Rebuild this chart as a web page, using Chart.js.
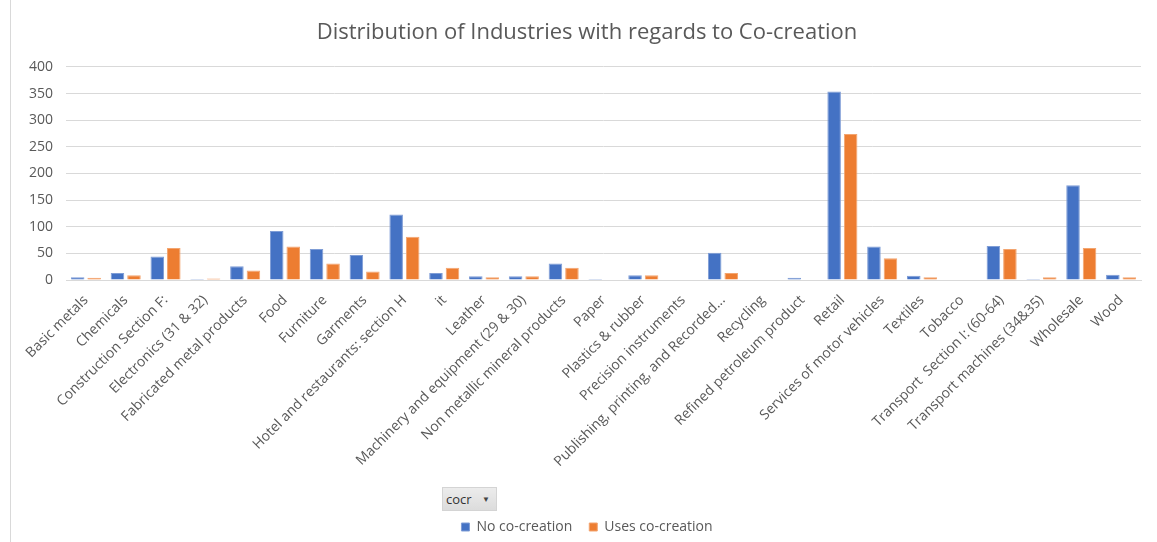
<!DOCTYPE html>
<html>
<head>
<meta charset="utf-8">
<script src="https://cdn.jsdelivr.net/npm/chart.js@4/dist/chart.umd.min.js"></script>
<style>
  html, body { margin: 0; padding: 0; background: #fff; overflow: hidden; }
  #wrap { position: relative; width: 1157px; height: 542px; }
  #frame { position: absolute; left: 10px; top: 0; width: 1px; height: 542px; background: #d9d9d9; }
  #cocr {
    position: absolute; left: 442px; top: 487px; width: 55px; height: 24px;
    background: linear-gradient(#ececec, #dcdcdc); border: 1px solid #d4d4d4; box-sizing: border-box;
    font: 13px "Open Sans", sans-serif; color: #333; line-height: 22px; padding-left: 3px;
  }
  #cocr span { position: absolute; left: 39px; top: 0; font-size: 8px; color: #444; }
</style>
</head>
<body>
<div id="wrap">
  <canvas id="chart" width="1157" height="542"></canvas>
  <div id="frame"></div>
  <div id="cocr">cocr<span>▼</span></div>
</div>
<script>
// categories (industry) as shown on the x axis
var industries = [
  'Basic metals', 'Chemicals', 'Construction Section F:', 'Electronics (31 & 32)',
  'Fabricated metal products', 'Food', 'Furniture', 'Garments',
  'Hotel and restaurants: section H', 'it', 'Leather', 'Machinery and equipment (29 & 30)',
  'Non metallic mineral products', 'Paper', 'Plastics & rubber', 'Precision instruments',
  'Publishing, printing, and Recorded...', 'Recycling', 'Refined petroleum product', 'Retail',
  'Services of motor vehicles', 'Textiles', 'Tobacco', 'Transport  Section I: (60-64)',
  'Transport machines (34&35)', 'Wholesale', 'Wood'
];
var noCocreation   = [5, 13, 44, 2, 26, 92, 58, 47, 123, 13, 7, 7, 31, 2, 9, 0, 51, 0, 4, 354, 63, 8, 0, 64, 2, 178, 10];
var usesCocreation = [4, 9, 60, 3, 18, 63, 31, 16, 81, 23, 5, 7, 23, 0, 9, 0, 13, 0, 0, 274, 41, 5, 0, 58, 5, 60, 5];
var yTicks = [0, 50, 100, 150, 200, 250, 300, 350, 400];

var grey = '#595959';
var fontFam = '"Open Sans", sans-serif';

var ctx = document.getElementById('chart');
var chart = new Chart(ctx, {
  type: 'bar',
  data: {
    labels: industries,
    datasets: [
      {
        label: 'No co-creation',
        data: noCocreation,
        backgroundColor: '#4472C4',
        borderColor: '#7f9dd6',
        borderWidth: 1,
        categoryPercentage: 0.83,
        barPercentage: 0.82
      },
      {
        label: 'Uses co-creation',
        data: usesCocreation,
        backgroundColor: '#ED7D31',
        borderColor: '#f3a570',
        borderWidth: 1,
        categoryPercentage: 0.83,
        barPercentage: 0.82
      }
    ]
  }, //data
  options: {
    responsive: false,
    animation: false,
    // title/legend are centred a bit right of the plot, like the excel frame
    layout: { padding: { left: 17, right: 0, top: 0, bottom: 0 } },
    scales: {
      x: {
        grid: { display: false },
        border: { display: true, color: '#d9d9d9', width: 1 },
        ticks: {
          autoSkip: false, minRotation: 45, maxRotation: 45,
          color: grey, font: { family: fontFam, size: 14 }, padding: 4
        },
        afterFit: function (s) { s.height = 223; }
      },
      y: {
        min: 0, max: 400,
        border: { display: false },
        grid: { color: '#d9d9d9', lineWidth: 1, drawTicks: false },
        afterBuildTicks: function (s) { s.ticks = yTicks.map(function (v) { return { value: v }; }); },
        ticks: { color: grey, font: { family: fontFam, size: 14 }, padding: 13 },
        afterFit: function (s) { s.width = 49; }
      },
      // empty spacer on the right
      yRight: {
        position: 'right',
        grid: { display: false },
        border: { display: false },
        ticks: { display: false },
        afterFit: function (s) { s.width = 16; }
      }
    },//scales
    plugins: {
      title: {
        display: true,
        text: 'Distribution of Industries with regards to Co-creation',
        color: grey,
        font: { family: fontFam, size: 22, weight: 'normal' },
        padding: { top: 20, bottom: 20.5 }
      },
      legend: {
        position: 'bottom',
        maxHeight: 39,
        labels: {
          color: grey, boxWidth: 8, boxHeight: 8, padding: 17,
          font: { family: fontFam, size: 14 }
        }
      },
      tooltip: { enabled: false }
    }
  }//options
});
</script>
</body>
</html>
